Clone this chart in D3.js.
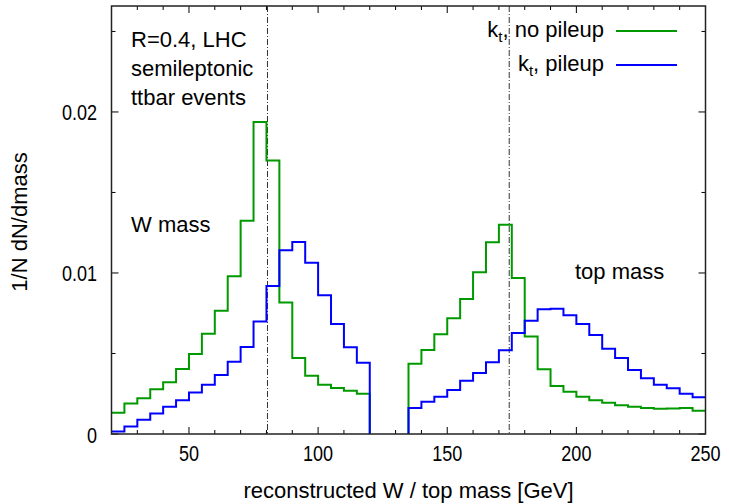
<!DOCTYPE html>
<html>
<head>
    <meta charset="utf-8">
    <title>W / top mass</title>
    <style>
        body {
            margin: 0;
            background: #fff;
            font-family: "Liberation Sans", Arial, sans-serif;
        }
        svg text {
            fill: #000;
            font-size: 22px;
        }
    </style>
    <script src="https://cdn.jsdelivr.net/npm/d3@7/dist/d3.min.js"></script>
</head>
<body>
<script>
    // 5 GeV bins, lower edges 20 ... 245
    var binLow = d3.range(20, 250, 5);
    var noPileup = [
        0.00132, 0.00190, 0.00222, 0.00278, 0.00321, 0.00404, 0.00497, 0.00623, 0.00766, 0.00979,
        0.01325, 0.01938, 0.01698, 0.00816, 0.00472, 0.00362, 0.00306, 0.00286, 0.00269, 0.00250,
        0, 0, 0,
        0.00436, 0.00522, 0.00619, 0.00719, 0.00839, 0.01004, 0.01191, 0.01300, 0.00969, 0.00605,
        0.00402, 0.00298, 0.00263, 0.00232, 0.00209, 0.00194, 0.00178, 0.00170, 0.00161, 0.00157,
        0.00159, 0.00161, 0.00145
    ];
    var withPileup = [
        0.00015, 0.00046, 0.00089, 0.00128, 0.00170, 0.00209, 0.00257, 0.00306, 0.00366, 0.00449,
        0.00540, 0.00698, 0.00919, 0.01141, 0.01193, 0.01064, 0.00861, 0.00683, 0.00539, 0.00443,
        0, 0, 0,
        0.00162, 0.00200, 0.00232, 0.00273, 0.00331, 0.00379, 0.00445, 0.00520, 0.00628, 0.00704,
        0.00774, 0.00778, 0.00737, 0.00683, 0.00615, 0.00530, 0.00472, 0.00398, 0.00346, 0.00306,
        0.00284, 0.00250, 0.00228
    ];
    var seriesNames = ["no pileup", "pileup"];
    var seriesColors = ["#009900", "#0000ff"];
    var massLines = [80.4, 174];
    var xTicks = [50, 100, 150, 200, 250];
    var yTicks = [0, 0.01, 0.02];

    var W = 729, H = 504;
    var plotL = 111.5, plotR = 705.5, plotT = 6, plotB = 434;
    var binW = 5;

    var x = d3.scaleLinear().domain([20, 250]).range([plotL, plotR]);
    var y = d3.scaleLinear().domain([0, 0.02658]).range([plotB, plotT]);

    var svg = d3.select("body").append("svg")
            .attr("width", W)
            .attr("height", H);

    // vertical W and top mass markers
    svg.selectAll("line.mass").data(massLines).enter().append("line")
            .attr("class", "mass")
            .attr("x1", function (d) { return x(d); })
            .attr("x2", function (d) { return x(d); })
            .attr("y1", plotT)
            .attr("y2", plotB)
            .attr("stroke", "#333")
            .attr("stroke-width", 1)
            .attr("stroke-dasharray", "6,2,1,2");

    // ticks (inward, on all four sides)
    var g = svg.append("g").attr("stroke", "#000").attr("stroke-width", 1);
    d3.range(20, 251, 10).forEach(function (v) {
        var len = (v % 50 === 0) ? 7 : 4;
        g.append("line").attr("x1", x(v)).attr("x2", x(v)).attr("y1", plotB).attr("y2", plotB - len);
        g.append("line").attr("x1", x(v)).attr("x2", x(v)).attr("y1", plotT).attr("y2", plotT + len);
    });
    d3.range(0, 0.0266, 0.005).forEach(function (v, i) {
        var len = (i % 2 === 0) ? 7 : 4;
        g.append("line").attr("x1", plotL).attr("x2", plotL + len).attr("y1", y(v)).attr("y2", y(v));
        g.append("line").attr("x1", plotR).attr("x2", plotR - len).attr("y1", y(v)).attr("y2", y(v));
    });

    // tick labels (narrow digits like the original)
    svg.selectAll("text.xt").data(xTicks).enter().append("text")
            .attr("class", "xt")
            .attr("transform", function (d) { return "translate(" + x(d) + ",461) scale(0.82,1)"; })
            .attr("text-anchor", "middle")
            .text(function (d) { return d; });
    svg.selectAll("text.yt").data(yTicks).enter().append("text")
            .attr("class", "yt")
            .attr("transform", function (d) { return "translate(97," + (y(d) + 8.5) + ") scale(0.82,1)"; })
            .attr("text-anchor", "end")
            .text(function (d) { return d === 0 ? "0" : d3.format(".2f")(d); });

    // histograms: one step path per run of non-empty bins
    function stepRuns(vals) {
        var runs = [], cur = null;
        vals.forEach(function (v, i) {
            if (v > 0) {
                if (!cur) {
                    cur = [];
                    if (i > 0) cur.push([binLow[i], 0]);
                }
                cur.push([binLow[i], v]);
            } else if (cur) {
                cur.push([binLow[i], 0]);
                runs.push(cur);
                cur = null;
            }
        });
        if (cur) {
            cur.push([binLow[vals.length - 1] + binW, vals[vals.length - 1]]);
            runs.push(cur);
        }
        return runs;
    }
    var line = d3.line()
            .x(function (d) { return x(d[0]); })
            .y(function (d) { return y(d[1]); })
            .curve(d3.curveStepAfter);

    [noPileup, withPileup].forEach(function (vals, i) {
        svg.append("path")
                .attr("d", stepRuns(vals).map(line).join(""))
                .attr("fill", "none")
                .attr("stroke", seriesColors[i])
                .attr("stroke-width", 2);
    });

    // frame
    svg.append("rect")
            .attr("x", plotL).attr("y", plotT)
            .attr("width", plotR - plotL).attr("height", plotB - plotT)
            .attr("fill", "none")
            .attr("stroke", "#222")
            .attr("stroke-width", 1.5);

    // legend
    seriesNames.forEach(function (name, i) {
        var ly = 31 + i * 34;
        var t = svg.append("text")
                .attr("x", 604)
                .attr("y", ly + 6)
                .attr("text-anchor", "end");
        t.append("tspan").text("k");
        t.append("tspan").attr("dy", 5).style("font-size", "15px").text("t");
        t.append("tspan").attr("dy", -5).text(", " + name);
        svg.append("line")
                .attr("x1", 616).attr("x2", 677)
                .attr("y1", ly).attr("y2", ly)
                .attr("stroke", seriesColors[i])
                .attr("stroke-width", 2);
    });

    // annotations
    var notes = [
        {t: "R=0.4, LHC", x: 131, y: 47},
        {t: "semileptonic", x: 131, y: 76},
        {t: "ttbar events", x: 131, y: 105},
        {t: "W mass", x: 131, y: 232},
        {t: "top mass", x: 575, y: 279}
    ];
    svg.selectAll("text.note").data(notes).enter().append("text")
            .attr("class", "note")
            .attr("x", function (d) { return d.x; })
            .attr("y", function (d) { return d.y; })
            .text(function (d) { return d.t; });

    // axis titles
    svg.append("text")
            .attr("x", (plotL + plotR) / 2)
            .attr("y", 498)
            .attr("text-anchor", "middle")
            .text("reconstructed W / top mass [GeV]");
    svg.append("text")
            .attr("transform", "translate(27,222) rotate(-90)")
            .attr("text-anchor", "middle")
            .text("1/N dN/dmass");
</script>
</body>
</html>
